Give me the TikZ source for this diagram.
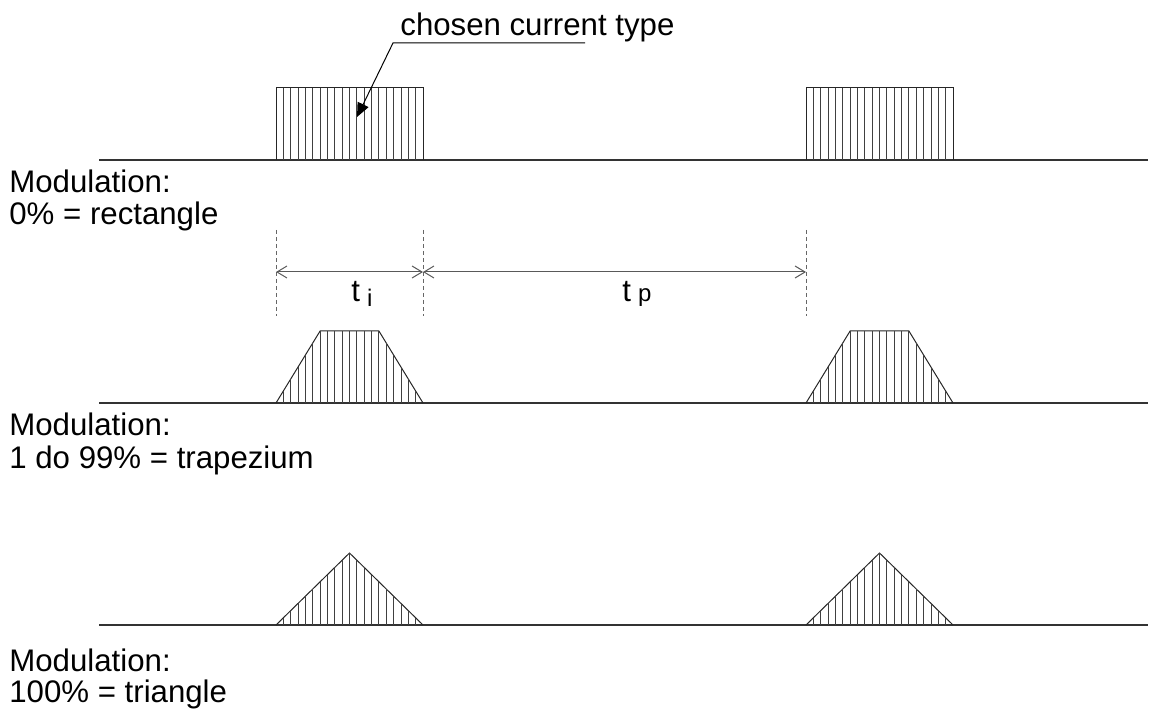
\documentclass[tikz,border=0pt]{standalone}
\usepackage{fontspec}
\setmainfont{Liberation Sans}
\usetikzlibrary{arrows.meta}

\begin{document}
\begin{tikzpicture}[
    x=0.5pt, y=-0.5pt,
    font=\fontsize{15.6}{16}\selectfont,
    axis/.style={line width=0.9pt, black!80},
    outline/.style={line width=0.5pt, black!85},
    hatch/.style={line width=0.45pt, black!75},
    guide/.style={dash pattern=on 2pt off 1.5pt, line width=0.4pt, black!60},
    dim/.style={{Straight Barb[length=5pt,width=6pt]}-{Straight Barb[length=5pt,width=6pt]},
      line width=0.5pt, black!65},
    lbl/.style={anchor=base west, inner sep=0pt},
    callout/.style={-{Triangle[length=7pt,width=6pt]}, line width=0.5pt}
  ]
  \useasboundingbox (0,0) rectangle (1149,710);

  % --- rectangle pulses
  \draw[axis] (99,160) -- (1148,160);
  \foreach \p in {276,806} {
    \draw[outline] (\p,160) -- (\p,88) -- ({\p+147},88) -- ({\p+147},160);
    \foreach \i in {1,...,19}
      \draw[hatch] ({\p+\i*7.35},160) -- ({\p+\i*7.35},88);
  }

  % --- trapezium pulses
  \draw[axis] (99,403) -- (1148,403);
  \foreach \p in {276,806} {
    \draw[outline] (\p,403) -- ({\p+44.1},331) -- ({\p+102.9},331) -- ({\p+147},403);
    \foreach \i in {1,...,19}
      \draw[hatch] ({\p+\i*7.35},403) -- ({\p+\i*7.35},{403-min(72,12*min(\i,20-\i))});
  }

  % --- triangle pulses
  \draw[axis] (99,625) -- (1148,625);
  \foreach \p in {276,806} {
    \draw[outline] (\p,625) -- ({\p+73.5},553) -- ({\p+147},625);
    \foreach \i in {1,...,19}
      \draw[hatch] ({\p+\i*7.35},625) -- ({\p+\i*7.35},{625-7.2*min(\i,20-\i)});
  }

  % --- dimensions
  \foreach \gx/\gn in {276/ga,423/gb,806/gc} {
    \coordinate (\gn-top) at (\gx,230);
    \coordinate (\gn-bot) at (\gx,316);
    \coordinate (\gn) at (\gx,272);
    \draw[guide] (\gn-top) -- (\gn-bot);
  }
  \draw[dim] (ga) -- (gb);
  \draw[dim] (gb) -- (gc);
  \node[lbl] (ti) at (351,302) {t\hspace{3.5pt}\raisebox{-2.5pt}{\fontsize{12}{12}\selectfont i}};
  \node[lbl] (tp) at (622,302) {t\hspace{3.5pt}{\fontsize{12}{12}\selectfont p}};

  % --- callout
  \node[lbl] (ctype) at (400,36) {chosen current type};
  \coordinate (ul) at (585,43);
  \coordinate (knee) at (393,43);
  \coordinate (tip) at (357,117);
  \draw[callout] (ul) -- (knee) -- (tip);

  % --- captions
  \node[lbl] (mod1) at (9,193) {Modulation:};
  \node[lbl] (typ1) at (9,225) {0\% = rectangle};
  \node[lbl] (mod2) at (9,436) {Modulation:};
  \node[lbl] (typ2) at (9,468) {1 do 99\% = trapezium};
  \node[lbl] (mod3) at (9,671) {Modulation:};
  \node[lbl] (typ3) at (9,702) {100\% = triangle};

\end{tikzpicture}
\end{document}
